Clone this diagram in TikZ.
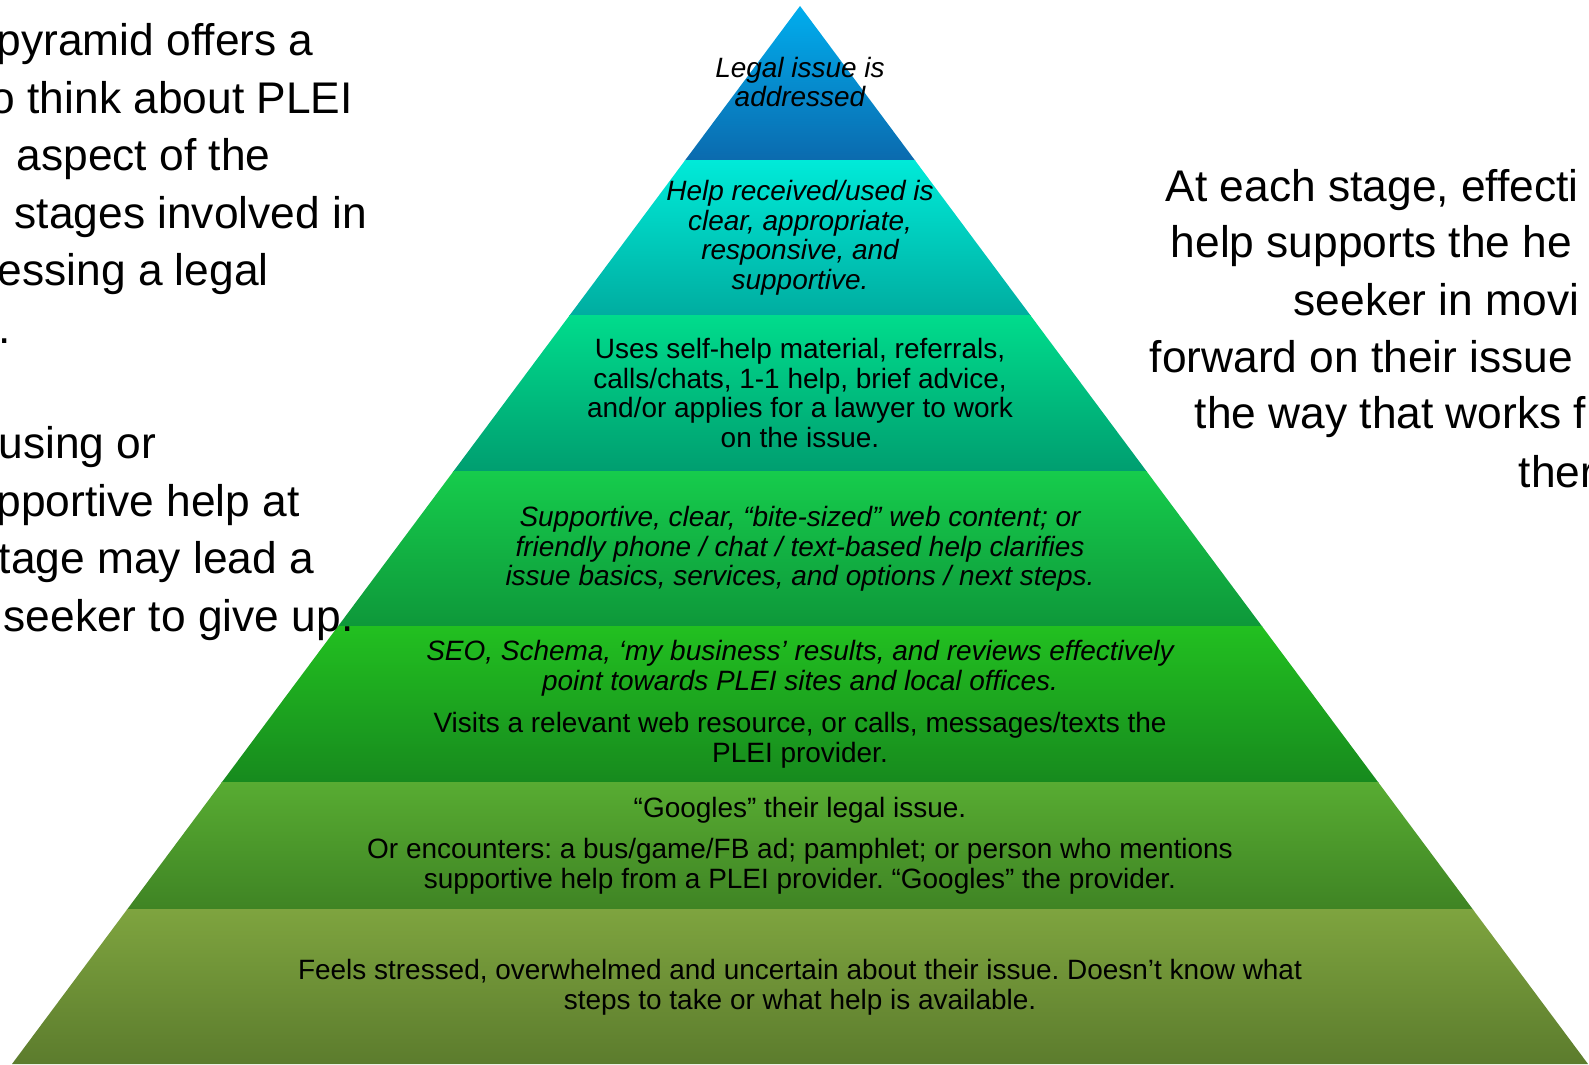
\documentclass[tikz,border=0pt]{standalone}
\usepackage{fontspec}
\setmainfont{Liberation Sans}
\usepackage{xcolor}
\usetikzlibrary{calc}
\frenchspacing

% tier colours, top and bottom of each band
\definecolor{legalTop}{HTML}{00B0F0}
\definecolor{legalBot}{HTML}{0B6AAE}
\definecolor{receivedTop}{HTML}{00EAD8}
\definecolor{receivedBot}{HTML}{00ADA0}
\definecolor{usesTop}{HTML}{00DC8C}
\definecolor{usesBot}{HTML}{009E70}
\definecolor{webTop}{HTML}{16CC4C}
\definecolor{webBot}{HTML}{0E983A}
\definecolor{seoTop}{HTML}{22C020}
\definecolor{seoBot}{HTML}{178A1E}
\definecolor{googleTop}{HTML}{58AC32}
\definecolor{googleBot}{HTML}{3F8424}
\definecolor{stressTop}{HTML}{7EA43F}
\definecolor{stressBot}{HTML}{5C7C2D}

\newcommand{\tierfont}{\fontsize{7.95}{8.4}\selectfont}
\newcommand{\sidefont}{\fontsize{12.6}{16.4}\selectfont}

\begin{document}
\begin{tikzpicture}[x=0.01cm, y=-0.01cm,
  tier/.style={align=center, inner sep=0pt, font=\tierfont},
  tierit/.style={tier, font=\tierfont\itshape},
  sidetext/.style={anchor=base west, inner sep=0pt, font=\sidefont}]
  \useasboundingbox (0,0) rectangle (1589,1064);
  \clip (0,0) rectangle (1589,1064);
  % pyramid corners
  \coordinate (apex) at (800,6);
  \coordinate (bl) at (12,1064);
  \coordinate (br) at (1588,1064);
  % shaded tiers, cut to the triangle
  \begin{scope}
    \clip (apex) -- (bl) -- (br) -- cycle;
    \foreach \ytop/\ybot/\ctop/\cbot in {0/161/legalTop/legalBot,
        161/315/receivedTop/receivedBot, 315/471/usesTop/usesBot,
        471/626/webTop/webBot, 626/782/seoTop/seoBot,
        782/909/googleTop/googleBot, 909/1064/stressTop/stressBot}
      \shade[top color=\ctop, bottom color=\cbot] (0,\ytop) rectangle (1589,\ybot);
  \end{scope}
  % tier texts, top to bottom
  \node[tierit] (addressed) at (800,82) {Legal issue is\\addressed};
  \node[tierit] (received) at (800,238) {Help received/used is\\clear, appropriate,\\responsive, and\\supportive.};
  \node[tier] (uses) at (800,393) {Uses self-help material, referrals,\\calls/chats, 1-1 help, brief advice,\\and/or applies for a lawyer to work\\on the issue.};
  \node[tierit] (webcontent) at (800,549) {Supportive, clear, “bite-sized” web content; or\\friendly phone / chat / text-based help clarifies\\issue basics, services, and options / next steps.};
  \node[tierit] (seo) at (800,668) {SEO, Schema, ‘my business’ results, and reviews effectively\\point towards PLEI sites and local offices.};
  \node[tier] (visits) at (800,740) {Visits a relevant web resource, or calls, messages/texts the\\PLEI provider.};
  \node[tier] (googles) at (800,810) {“Googles” their legal issue.};
  \node[tier] (encounters) at (800,866) {Or encounters: a bus/game/FB ad; pamphlet; or person who mentions\\supportive help from a PLEI provider. “Googles” the provider.};
  \node[tier] (stressed) at (800,987) {Feels stressed, overwhelmed and uncertain about their issue. Doesn’t know what\\steps to take or what help is available.};
  % side notes, cut at the page edges
  \foreach \x/\y/\txt [count=\i] in {-4/56/{pyramid offers a}, -10/113.5/{o think about PLEI},
      16/171/{aspect of the}, 14/228.5/{stages involved in}, -3/286/{essing a legal},
      -2/343.5/{.}, -2/458.5/{using or}, -4/516/{pportive help at},
      -2/573.5/{tage may lead a}, 3/631/{seeker to give up.}}
    \node[sidetext] (lnote\i) at (\x,\y) {\txt};
  \foreach \x/\y/\txt [count=\i] in {1165/202/{At each stage, effecti}, 1170/258/{help supports the he},
      1293/315/{seeker in movi}, 1149/372/{forward on their issue},
      1194/428/{the way that works f}, 1518/487/{ther}}
    \node[sidetext] (rnote\i) at (\x,\y) {\txt};
\end{tikzpicture}
\end{document}
